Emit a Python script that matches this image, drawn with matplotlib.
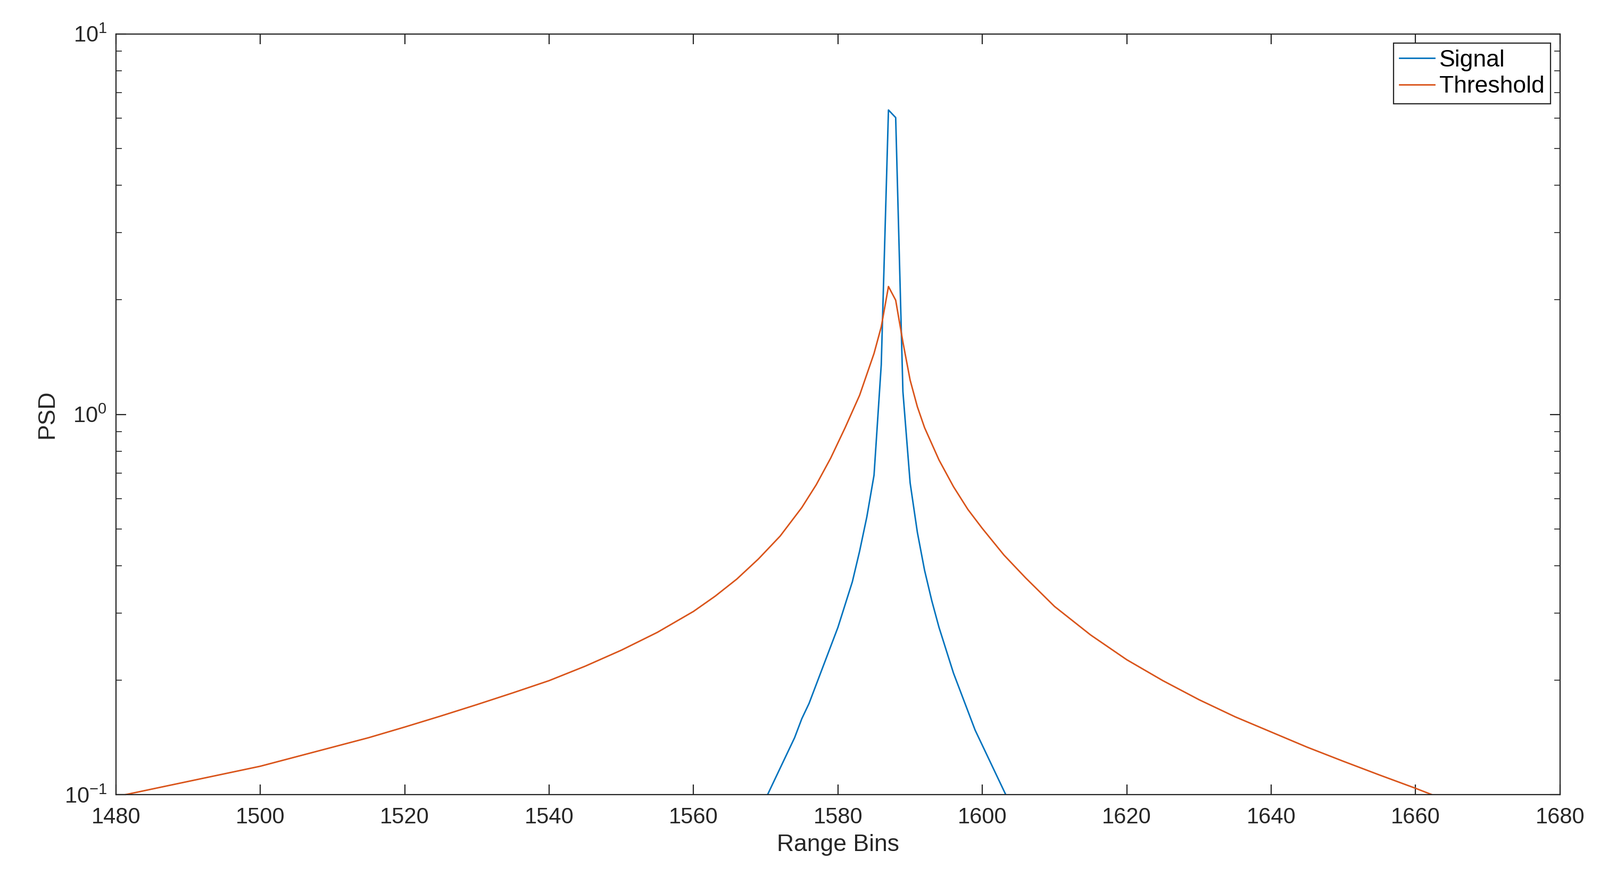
import numpy as np
import matplotlib
matplotlib.use('Agg')
import matplotlib.pyplot as plt

plt.rcParams['font.family'] = ['Liberation Sans', 'DejaVu Sans']

# signal: log10(PSD) per range bin
sig_bins = list(range(1570, 1605))
sig_log = [-1.01, -0.97, -0.93, -0.89, -0.85, -0.80, -0.76, -0.71, -0.66, -0.61,
           -0.56, -0.50, -0.44, -0.36, -0.27, -0.16, 0.13, 0.80, 0.78, 0.06,
           -0.18, -0.31, -0.41, -0.49, -0.56, -0.62, -0.68, -0.73, -0.78, -0.83,
           -0.87, -0.91, -0.95, -0.99, -1.03]

# threshold: log10(PSD)
thr_bins = [1480, 1485, 1490, 1495, 1500, 1505, 1510, 1515, 1520, 1525, 1530, 1535,
            1540, 1545, 1550, 1555, 1560, 1563, 1566, 1569, 1572, 1575, 1577, 1579,
            1581, 1583, 1585, 1586, 1587, 1588, 1589, 1590, 1591, 1592, 1594, 1596,
            1598, 1600, 1603, 1606, 1610, 1615, 1620, 1625, 1630, 1635, 1640, 1645,
            1650, 1655, 1660, 1665]
thr_log = [-1.005, -0.985, -0.965, -0.945, -0.925, -0.90, -0.875, -0.85, -0.822, -0.793,
           -0.763, -0.732, -0.70, -0.662, -0.62, -0.573, -0.518, -0.478, -0.433, -0.38,
           -0.32, -0.245, -0.185, -0.115, -0.035, 0.05, 0.16, 0.23, 0.336, 0.30,
           0.19, 0.09, 0.02, -0.035, -0.12, -0.19, -0.25, -0.30, -0.37, -0.43,
           -0.505, -0.58, -0.645, -0.70, -0.75, -0.795, -0.835, -0.875, -0.912,
           -0.948, -0.983, -1.02]

fig = plt.figure(figsize=(15.035, 8.38), dpi=200, facecolor='w')
ax = fig.add_axes([0.0724, 0.109, 0.9026, 0.853])
ax.semilogy(sig_bins, 10 ** np.array(sig_log), color='#0072BD', lw=1.0, label='Signal')
ax.semilogy(thr_bins, 10 ** np.array(thr_log), color='#D95319', lw=1.0, label='Threshold')

ax.set_xlim(1480, 1680)
ax.set_ylim(0.1, 10)
ax.set_xticks(range(1480, 1681, 20))
ax.tick_params(which='both', direction='in', top=True, right=True, labelsize=15, colors='#262626')
ax.tick_params(which='major', length=7)
ax.tick_params(which='minor', length=4)
ax.tick_params(axis='x', pad=8)
ax.tick_params(axis='y', pad=6)
for s in ax.spines.values():
    s.set_color('#262626')
    s.set_linewidth(0.8)
ax.set_xlabel('Range Bins', fontsize=16, color='#262626')
ax.set_ylabel('PSD', fontsize=16, color='#262626')

leg = ax.legend(loc='upper right', fontsize=16, fancybox=False, framealpha=1,
                edgecolor='#262626', borderaxespad=0.4, handlelength=1.5,
                handletextpad=0.2, borderpad=0.25, labelspacing=0.2)
leg.get_frame().set_linewidth(0.8)

fig.savefig('out.png', dpi=200)
